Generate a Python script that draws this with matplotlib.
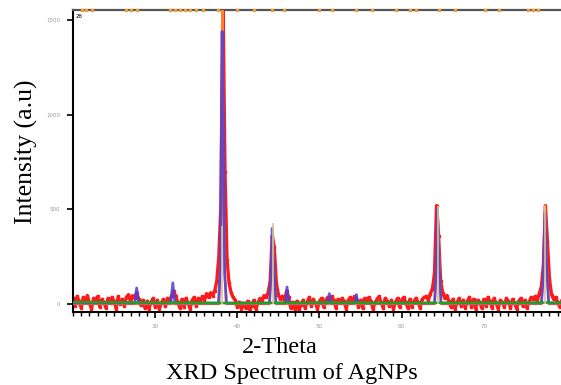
import numpy as np
import matplotlib
matplotlib.use("Agg")
import matplotlib.pyplot as plt
from matplotlib.ticker import MultipleLocator

# observed pattern, 2-theta from 20 to 80 in 0.25 deg steps
two_theta_start = 20.0
two_theta_step = 0.25
observed = [
    30, -10, 40, 15,      # 20
    -20, 35, 10, 45,      # 21
    5, -25, 30, 20,       # 22
    40, -15, 25, 10,      # 23
    -20, 30, 5, 35,       # 24
    15, -25, 40, 0,       # 25
    25, -10, 35, 50,      # 26
    10, 45, 30, 60,       # 27
    25, -5, 20, -20,      # 28
    15, -25, 10, 30,      # 29
    -15, 20, -25, 5,      # 30
    25, -10, 30, 15,      # 31
    45, 70, 40, 10,       # 32
    -20, 25, -15, 30,     # 33
    5, -25, 20, 35,       # 34
    -10, 30, 15, 40,      # 35
    20, 55, 35, 60,       # 36
    45, 70, 120, 250,     # 37
    520, 1650, 700, 230,  # 38
    110, 60, 35, 20,      # 39
    -15, 10, -25, 5,      # 40
    -20, 15, -30, -10,    # 41
    20, -25, 5, 30,       # 42
    10, 45, 35, 60,       # 43
    120, 360, 300, 110,   # 44
    50, 25, 40, 15,       # 45
    70, 35, -20, 10,      # 46
    -25, 15, -30, -5,     # 47
    20, -20, 10, 35,      # 48
    -10, 25, 5, -25,      # 49
    15, 30, -15, 20,      # 50
    35, 10, 40, 20,       # 51
    -20, 25, 5, 30,       # 52
    15, -25, 20, 35,      # 53
    10, 40, 25, -15,      # 54
    20, -20, 30, 10,      # 55
    35, 15, -25, 5,       # 56
    25, 40, 10, -20,      # 57
    30, 15, -10, 20,      # 58
    -25, 10, 30, -15,     # 59
    20, 35, 10, -20,      # 60
    25, -15, 15, 30,      # 61
    10, -20, 25, 35,      # 62
    40, 20, 55, 80,       # 63
    160, 520, 360, 120,   # 64
    60, 30, 45, 15,       # 65
    -15, 25, -25, 10,     # 66
    30, -10, 20, -20,     # 67
    15, 35, -15, 25,      # 68
    -25, 20, 10, -20,     # 69
    25, -10, 35, 15,      # 70
    -20, 30, 5, -25,      # 71
    20, 10, -15, 30,      # 72
    15, -20, 25, 5,       # 73
    -25, 15, 30, -10,     # 74
    20, -20, 10, 35,      # 75
    25, 40, 15, 55,       # 76
    90, 200, 520, 330,    # 77
    130, 50, 25, 35,      # 78
    10, -15, 20, 5,       # 79
    15,                   # 80
]

# calculated profile (blue)
calc_x = [20.0, 27.5, 27.75, 28.0, 31.9, 32.15, 32.4, 37.7, 37.95, 38.15, 38.3, 38.45, 38.7,
          43.9, 44.1, 44.25, 44.45, 44.7, 45.9, 46.05, 46.25, 51.0, 51.2, 51.4, 54.3, 54.5, 54.7,
          64.0, 64.2, 64.35, 64.55, 64.8, 77.0, 77.25, 77.45, 77.65, 77.9, 80.0]
calc_y = [5, 5, 85, 5, 5, 112, 5, 5, 200, 1440, 1000, 160, 5,
          5, 150, 400, 200, 5, 5, 90, 5, 5, 55, 5, 5, 50, 5,
          5, 180, 500, 220, 5, 5, 150, 480, 200, 5, 5]

# second profile (orange)
fit_x = [20.0, 37.8, 38.05, 38.2, 38.35, 38.6, 43.95, 44.15, 44.3, 44.5, 44.7,
         64.05, 64.25, 64.4, 64.6, 64.8, 77.05, 77.3, 77.45, 77.65, 77.9, 80.0]
fit_y = [0, 0, 300, 1650, 500, 0, 0, 180, 370, 160, 0,
         0, 200, 500, 200, 0, 0, 180, 520, 220, 0, 0]

# background (green)
bg_x = [20, 30, 40, 50, 60, 70, 80]
bg_y = [10, 8, 5, 8, 6, 7, 8]

# reflection markers
bragg_pos = [38.15, 44.3, 64.4, 77.45]
bragg_h = [410, 430, 520, 520]

# clipped points along the top edge
top_pts = [21.1, 21.6, 22.3, 26.5, 27.0, 27.8, 31.8, 32.4, 33.0, 33.6, 34.2, 35.0, 35.8,
           37.6, 40.0, 42.0, 44.2, 45.7, 50.0, 51.5, 54.4, 56.4, 59.3, 61.0, 61.8,
           64.5, 66.5, 70.2, 71.8, 75.4, 76.0, 76.6]

two_theta = two_theta_start + two_theta_step * np.arange(len(observed))

fig = plt.figure(figsize=(5.61, 3.85), dpi=100)
ax = fig.add_axes([73 / 561, 1 - 312 / 385, 1 - 73 / 561, 302 / 385])

ax.plot(two_theta, observed, color="#ff1a1a", lw=2.4, marker="s", ms=1.8, zorder=2)
ax.plot(fit_x, fit_y, color="#ff7f2a", lw=1.6, zorder=3)
ax.plot(calc_x, calc_y, color="#4b3fd6", lw=2.0, alpha=0.85, zorder=4)
ax.plot(bg_x, bg_y, color="#22a022", lw=1.8, zorder=5)
ax.vlines(bragg_pos, 0, bragg_h, color="#d9c49a", lw=1.2, zorder=6)
ax.scatter(top_pts, [1553] * len(top_pts), s=2, marker="s", color="#e8a040",
           clip_on=False, zorder=7)

ax.set_xlim(20.0, 79.4)
ax.set_ylim(-42, 1553)
ax.set_xticks([30, 40, 50, 60, 70])
ax.xaxis.set_minor_locator(MultipleLocator(1))
ax.set_yticks([0, 500, 1000, 1500])
ax.tick_params(axis="both", which="major", length=4, width=1.2, labelsize=4,
               labelcolor="#999999", pad=5)
ax.tick_params(axis="x", which="minor", length=3, width=1.0)

ax.spines["right"].set_visible(False)
ax.spines["left"].set_linewidth(1.5)
ax.spines["bottom"].set_linewidth(1.5)
ax.spines["top"].set_color("#555555")
ax.spines["top"].set_linewidth(1.6)
ax.text(20.3, 1530, "2θ", fontsize=4, va="top")

serif = "Liberation Serif"
fig.text(26 / 561, 1 - 152 / 385, "Intensity (a.u)", rotation=90, ha="center", va="center",
         fontsize=18.5, family=serif)
fig.text(280 / 561, 1 - 353 / 385, "2-Theta", ha="center", va="baseline",
         fontsize=17.5, family=serif)
fig.text(292 / 561, 1 - 379 / 385, "XRD Spectrum of AgNPs", ha="center", va="baseline",
         fontsize=17.5, family=serif)

fig.savefig("out.png", dpi=100)
